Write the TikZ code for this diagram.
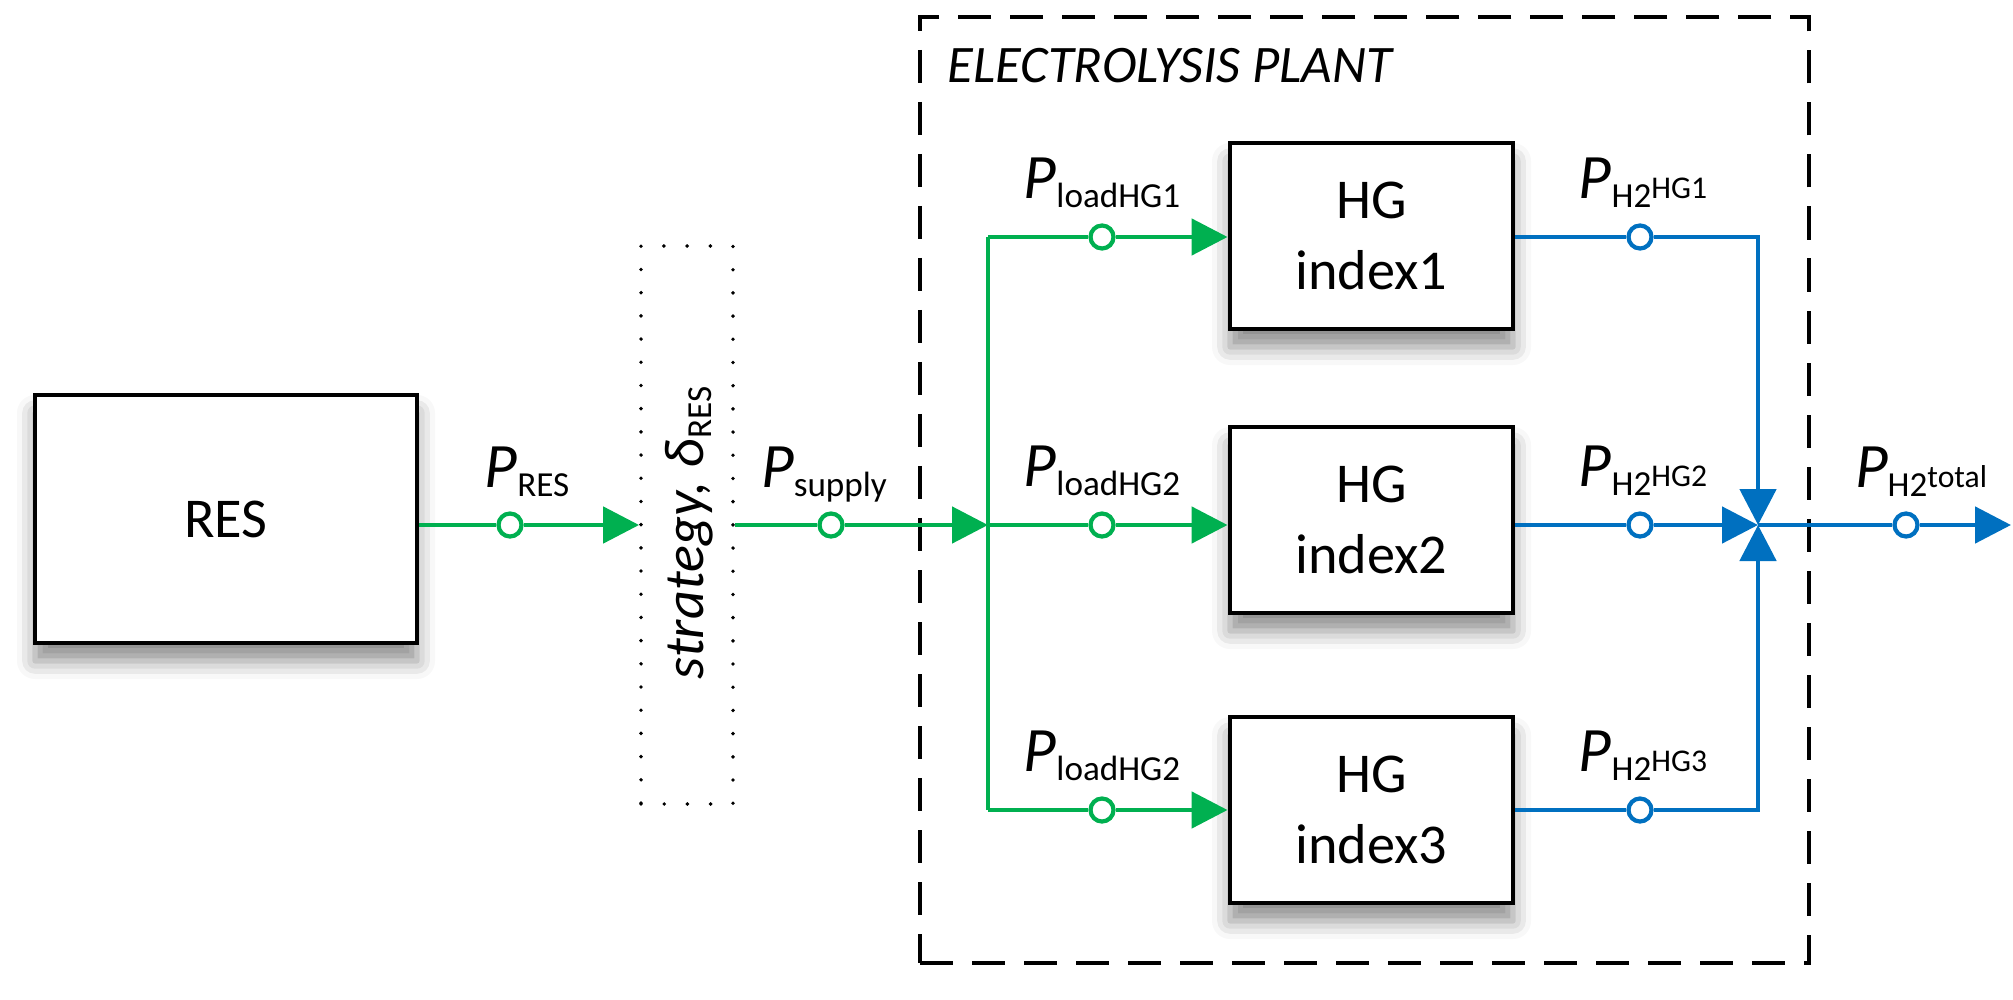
\documentclass[tikz,border=0pt]{standalone}
\usepackage{fontspec}
\setmainfont{Carlito}
\usetikzlibrary{positioning, arrows.meta, shadows.blur}

\definecolor{flowgreen}{HTML}{00B050}
\definecolor{flowblue}{HTML}{0070C0}

\newcommand{\pvar}[1]{\textit{P}\raisebox{-0.9mm}{\fontsize{10}{12}\selectfont #1}}
\newcommand{\phyd}[1]{\textit{P}\raisebox{-0.9mm}{\fontsize{10}{12}\selectfont H2\raisebox{0.9mm}{\fontsize{9}{11}\selectfont #1}}}

\begin{document}
\begin{tikzpicture}[>={Triangle[length=3.6mm, width=3.6mm]},
    block/.style={draw, line width=1.4pt, fill=white, minimum width=2.83cm, minimum height=1.86cm, align=center,
        font=\fontsize{16}{20}\selectfont,
        blur shadow={shadow xshift=0pt, shadow yshift=-1.8mm, shadow blur radius=1.8mm, shadow opacity=45}},
    port/.style={circle, draw, line width=1.2pt, fill=white, inner sep=0pt, minimum size=2.3mm},
    gline/.style={draw=flowgreen, line width=1.4pt},
    bline/.style={draw=flowblue, line width=1.4pt},
    lbl/.style={anchor=base, font=\fontsize{18}{21}\selectfont, inner sep=0pt}]
    \useasboundingbox (0,0) rectangle (20.13,-9.99);

    % Frames
    \node[draw, line width=1.1pt, dash pattern=on 9.4pt off 5.4pt, minimum width=8.89cm, minimum height=9.46cm] (plant) at (13.645,-4.90) {};
    \node[anchor=base west, inner sep=0pt, font=\fontsize{15}{18}\selectfont\itshape] (title) at (9.47,-0.82) {ELECTROLYSIS PLANT};
    \node[draw, line width=1.1pt, line cap=round, dash pattern=on 0pt off 6.6pt, minimum width=0.92cm, minimum height=5.58cm] (strat) at (6.87,-5.25) {};
    \node[rotate=90, inner sep=0pt, font=\fontsize{16}{19}\selectfont] (strattxt) at (6.89,-5.33) {\textit{strategy, δ}\raisebox{-0.8mm}{\fontsize{10}{12}\selectfont RES}};

    % Blocks
    \node[block, minimum width=3.82cm, minimum height=2.48cm] (res) at (2.26,-5.19) {RES};
    \node[block] (hg1) at (13.715,-2.36) {HG\\index1};
    \node[block] (hg2) at (13.715,-5.20) {HG\\index2};
    \node[block] (hg3) at (13.715,-8.10) {HG\\index3};

    % Junctions
    \coordinate (jg1) at (9.88,-2.37);
    \coordinate (jg2) at (9.88,-5.25);
    \coordinate (jg3) at (9.88,-8.10);
    \coordinate (jb1) at (17.58,-2.37);
    \coordinate (jb2) at (17.58,-5.25);
    \coordinate (jb3) at (17.58,-8.10);
    \coordinate (out) at (20.11,-5.25);

    % Ports
    \node[port, draw=flowgreen] (pres) at (5.10,-5.25) {};
    \node[port, draw=flowgreen] (psup) at (8.31,-5.25) {};
    \foreach \i in {1,2,3} {
        \node[port, draw=flowgreen] (pl\i) at (11.02,0 |- jg\i) {};
        \node[port, draw=flowblue] (ph\i) at (16.40,0 |- jb\i) {};
    }
    \node[port, draw=flowblue] (ptot) at (19.06,-5.25) {};

    % Power flow
    \draw[gline, ->] (res.east |- pres) -- (pres) -- (strat.west |- pres);
    \draw[gline, ->] (strat.east |- psup) -- (psup) -- (jg2);
    \draw[gline] (jg1) -- (jg3);
    \foreach \i in {1,2,3}
        \draw[gline, ->] (jg\i) -- (pl\i) -- (hg\i.west |- jg\i);

    % Hydrogen flow
    \draw[bline, ->] (hg1.east |- jb1) -- (ph1) -- (jb1) -- (jb2);
    \draw[bline, ->] (hg2.east |- jb2) -- (ph2) -- (jb2);
    \draw[bline, ->] (hg3.east |- jb3) -- (ph3) -- (jb3) -- (jb2);
    \draw[bline, ->] (jb2) -- (ptot) -- (out);

    % Labels
    \node[lbl] (lres) at ([xshift=1.7mm, yshift=3.8mm]pres.center) {\pvar{RES}};
    \node[lbl] (lsup) at ([xshift=-0.7mm, yshift=3.8mm]psup.center) {\pvar{supply}};
    \node[lbl] (ll1) at ([yshift=3.9mm]pl1.center) {\pvar{loadHG1}};
    \node[lbl] (ll2) at ([yshift=3.9mm]pl2.center) {\pvar{loadHG2}};
    \node[lbl] (ll3) at ([yshift=3.9mm]pl3.center) {\pvar{loadHG2}};
    \node[lbl] (lh1) at ([xshift=0.3mm, yshift=3.9mm]ph1.center) {\phyd{HG1}};
    \node[lbl] (lh2) at ([xshift=0.3mm, yshift=3.9mm]ph2.center) {\phyd{HG2}};
    \node[lbl] (lh3) at ([xshift=0.3mm, yshift=3.9mm]ph3.center) {\phyd{HG3}};
    \node[lbl] (ltot) at ([xshift=1.5mm, yshift=3.8mm]ptot.center) {\phyd{total}};
\end{tikzpicture}
\end{document}
